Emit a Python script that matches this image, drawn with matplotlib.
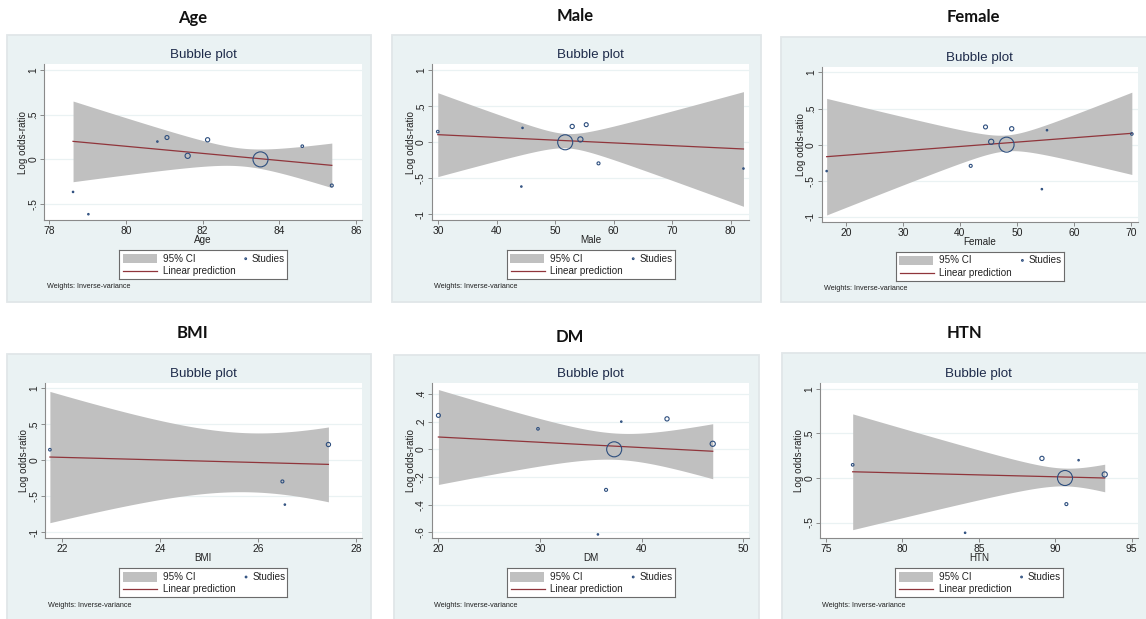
import numpy as np
import matplotlib
matplotlib.use("Agg")
import matplotlib.pyplot as plt
from matplotlib.patches import Rectangle
from matplotlib.lines import Line2D

# ---- study-level data (log odds-ratio and inverse-variance weight) ----
studies = ["A", "B", "C", "D", "E", "F", "G", "H", "I"]
log_or = [0.245, 0.22, 0.20, 0.148, 0.04, 0.0, -0.293, -0.365, -0.615]
weights = [7, 8, 1, 3, 12, 100, 4, 1, 1]

# covariate value of each study (None = not reported)
age_x = [81.07, 82.13, 80.82, 84.6, 81.61, 83.51, 85.37, 78.62, 79.02]
male_x = [55.3, 52.9, 44.4, 29.9, 54.3, 51.7, 57.4, 82.2, 44.2]
female_x = [44.5, 49.1, 55.3, 70.2, 45.5, 48.2, 41.9, 16.6, 54.4]
bmi_x = [None, 27.44, None, 21.75, None, None, 26.5, None, 26.55]
dm_x = [20.0, 42.5, 38.0, 29.8, 47.0, 37.3, 36.5, None, 35.7]
htn_x = [None, 89.13, 91.53, 76.74, 93.24, 90.64, 90.73, None, 84.1]

# meta-regression fit: prediction at lowest/highest covariate value
age_pred = [0.202, -0.067]
male_pred = [0.106, -0.093]
female_pred = [-0.166, 0.157]
bmi_pred = [0.046, -0.056]
dm_pred = [0.089, -0.014]
htn_pred = [0.07, 0.0]

# 95% CI half-width: at lowest x, at highest x, and at its narrowest
age_ci = [0.4525, 0.25, 0.10]
male_ci = [0.583, 0.797, 0.10]
female_ci = [0.806, 0.569, 0.11]
bmi_ci = [0.912, 0.52, 0.41]
dm_ci = [0.343, 0.199, 0.095]
htn_ci = [0.65, 0.155, 0.10]

panel_titles = ["Age", "Male", "Female", "BMI", "DM", "HTN"]
panel_x = [age_x, male_x, female_x, bmi_x, dm_x, htn_x]
panel_pred = [age_pred, male_pred, female_pred, bmi_pred, dm_pred, htn_pred]
panel_ci = [age_ci, male_ci, female_ci, bmi_ci, dm_ci, htn_ci]
panel_xticks = [
    [78, 80, 82, 84, 86],
    [30, 40, 50, 60, 70, 80],
    [20, 30, 40, 50, 60, 70],
    [22, 24, 26, 28],
    [20, 30, 40, 50],
    [75, 80, 85, 90, 95],
]
panel_yticks = [
    [-0.5, 0, 0.5, 1],
    [-1, -0.5, 0, 0.5, 1],
    [-1, -0.5, 0, 0.5, 1],
    [-1, -0.5, 0, 0.5, 1],
    [-0.6, -0.4, -0.2, 0, 0.2, 0.4],
    [-0.5, 0, 0.5, 1],
]

# ---- layout (pixels) ----
W, H = 1146, 619
layout = [
    dict(frame=(7, 35, 371, 302), head=(193, 18), ax=(44.3, 64, 361.7, 220),
         xlim=(77.87, 86.15), ylim=(-0.68, 1.07)),
    dict(frame=(392, 35, 761, 302), head=(575, 16), ax=(431.7, 64, 749.3, 220),
         xlim=(28.86, 83.2), ylim=(-1.08, 1.088)),
    dict(frame=(781, 37, 1148, 302), head=(973, 17), ax=(821.7, 66.7, 1137.7, 221.7),
         xlim=(15.73, 71.23), ylim=(-1.065, 1.078)),
    dict(frame=(7, 354, 371, 621), head=(193, 333), ax=(45, 382.7, 361.7, 538.3),
         xlim=(21.65, 28.12), ylim=(-1.083, 1.079)),
    dict(frame=(394, 355, 759, 621), head=(570, 337), ax=(431.7, 383.3, 749.3, 538.3),
         xlim=(19.34, 50.6), ylim=(-0.643, 0.477)),
    dict(frame=(782, 353, 1148, 621), head=(965, 333), ax=(820, 382.7, 1137.7, 538.3),
         xlim=(74.6, 95.4), ylim=(-0.677, 1.07)),
]

BG = "#eaf2f3"
NAVY = "#2d4e7e"
MAROON = "#90353b"
BAND = "#c0c0c0"
AXC = "#8a8a8a"
TXT = "#222222"
SANS = ["Liberation Sans", "DejaVu Sans"]
HEAD = ["Lato", "DejaVu Sans"]

plt.rcParams["font.family"] = SANS

fig = plt.figure(figsize=(W / 100, H / 100), dpi=100)
fig.patch.set_facecolor("white")


def fx(x):
    return x / W


def fy(y):
    return 1 - y / H


def fmt_tick(v):
    if abs(v) < 1e-12:
        return "0"
    s = f"{v:g}"
    return s.replace("0.", ".")


def ci_halfwidth(x, x_lo, x_hi, h_lo, h_hi, h_min):
    # hyperbolic CI of a linear prediction, narrowest at xm
    r = np.sqrt((h_lo ** 2 - h_min ** 2) / (h_hi ** 2 - h_min ** 2))
    xm = (x_lo + r * x_hi) / (1 + r)
    k2 = (h_lo ** 2 - h_min ** 2) / (xm - x_lo) ** 2
    return np.sqrt(h_min ** 2 + k2 * (x - xm) ** 2)


for i, lay in enumerate(layout):
    fl, ft, fr, fb = lay["frame"]
    fig.patches.append(Rectangle((fx(fl), fy(fb)), (fr - fl) / W, (fb - ft) / H,
                                 transform=fig.transFigure, facecolor=BG,
                                 edgecolor="#e1e6e8", linewidth=1.3, zorder=-5))
    hx, hy = lay["head"]
    fig.text(fx(hx), fy(hy), panel_titles[i], ha="center", va="center",
             fontsize=12, fontweight="bold", family=HEAD, color="#111111")

    al, at, ar, ab = lay["ax"]
    ax = fig.add_axes([fx(al), fy(ab), (ar - al) / W, (ab - at) / H])
    ax.set_zorder(1)
    ax.set_facecolor("white")
    ax.set_xlim(*lay["xlim"])
    ax.set_ylim(*lay["ylim"])
    for side in ("top", "right"):
        ax.spines[side].set_visible(False)
    for side in ("left", "bottom"):
        ax.spines[side].set_color(AXC)
        ax.spines[side].set_linewidth(0.8)

    xt = panel_xticks[i]
    yt = panel_yticks[i]
    ax.set_xticks(xt)
    ax.set_xticklabels([str(t) for t in xt])
    ax.set_yticks(yt)
    ax.set_yticklabels([fmt_tick(t) for t in yt], rotation=90, va="center")
    ax.tick_params(axis="both", length=2.6, width=0.7, color=AXC,
                   labelsize=7.4, labelcolor=TXT, pad=1.6)
    for t in yt:
        ax.axhline(t, color=BG, linewidth=0.9, zorder=0.5)

    # studies present in this panel
    xs, ys, ws = [], [], []
    for xv, yv, wv in zip(panel_x[i], log_or, weights):
        if xv is not None:
            xs.append(xv)
            ys.append(yv)
            ws.append(wv)
    xs = np.array(xs)
    x_lo, x_hi = xs.min(), xs.max()

    grid = np.linspace(x_lo, x_hi, 200)
    p_lo, p_hi = panel_pred[i]
    pred = p_lo + (p_hi - p_lo) * (grid - x_lo) / (x_hi - x_lo)
    h_lo, h_hi, h_min = panel_ci[i]
    hw = ci_halfwidth(grid, x_lo, x_hi, h_lo, h_hi, h_min)
    ax.fill_between(grid, pred - hw, pred + hw, color=BAND, linewidth=0, zorder=1)
    ax.plot(grid, pred, color=MAROON, linewidth=0.9, zorder=2)
    ax.scatter(xs, ys, s=np.array(ws) * 1.17, facecolors="none",
               edgecolors=NAVY, linewidths=0.8, zorder=3, clip_on=False)

    # titles
    cx = (al + ar) / 2
    fig.text(fx(cx), fy(at - 9), "Bubble plot", ha="center", va="center",
             fontsize=9.6, color="#1e2b4a")
    fig.text(fx(cx), fy(ab + 20), panel_titles[i], ha="center", va="center",
             fontsize=7.1, color=TXT)
    fig.text(fx(al - 21), fy((at + ab) / 2), "Log odds-ratio", ha="center",
             va="center", rotation=90, fontsize=7.1, color=TXT)
    fig.text(fx(al + 2.5), fy(ab + 67), "Weights: Inverse-variance", ha="left",
             va="center", fontsize=5.2, color=TXT)

    # legend box
    lw_, lh_ = 168, 29
    ll, lt = cx - lw_ / 2, ab + 30
    lax = fig.add_axes([fx(ll), fy(lt + lh_), lw_ / W, lh_ / H])
    lax.set_zorder(1)
    lax.set_xlim(0, lw_)
    lax.set_ylim(lh_, 0)
    lax.set_xticks([])
    lax.set_yticks([])
    lax.set_facecolor("white")
    for sp in lax.spines.values():
        sp.set_color("#6b6b6b")
        sp.set_linewidth(0.8)
    lax.add_patch(Rectangle((3.7, 4.0), 34, 9.3, facecolor=BAND, linewidth=0))
    lax.text(43.7, 8.7, "95% CI", ha="left", va="center", fontsize=7.1, color=TXT)
    lax.add_line(Line2D([4, 38], [21, 21], color=MAROON, linewidth=0.9))
    lax.text(43.7, 21, "Linear prediction", ha="left", va="center",
             fontsize=7.1, color=TXT)
    lax.scatter([126.7], [8.7], s=1.5, facecolors="none", edgecolors=NAVY,
                linewidths=0.8)
    lax.text(133, 8.7, "Studies", ha="left", va="center", fontsize=7.1, color=TXT)

fig.savefig("out.png", dpi=100, facecolor="white")
